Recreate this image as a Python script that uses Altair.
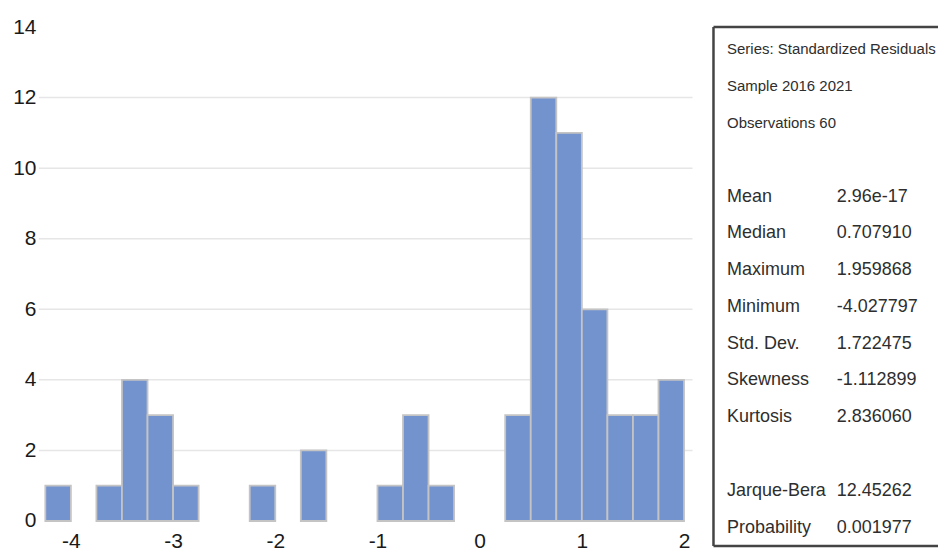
import altair as alt
import pandas as pd

# ---- histogram data (bin edges and counts) ----
bin_edges = [-4.25, -4.0, -3.75, -3.5, -3.25, -3.0, -2.75, -2.5, -2.25, -2.0,
             -1.75, -1.5, -1.25, -1.0, -0.75, -0.5, -0.25, 0.0, 0.25, 0.5,
             0.75, 1.0, 1.25, 1.5, 1.75, 2.0]
counts = [1, 0, 1, 4, 3, 1, 0, 0, 1, 0,
          2, 0, 0, 1, 3, 1, 0, 0, 3, 12,
          11, 6, 3, 3, 4]
x_ticks = [-4, -3, -2, -1, 0, 1, 2]
y_ticks = [0, 2, 4, 6, 8, 10, 12, 14]
grid_values = [2, 4, 6, 8, 10, 12]

# ---- statistics box ----
header_lines = ["Series: Standardized Residuals", "Sample 2016 2021", "Observations 60"]
header_rows = [0, 1, 2]
stat_names = ["Mean", "Median", "Maximum", "Minimum", "Std. Dev.", "Skewness",
              "Kurtosis", "Jarque-Bera", "Probability"]
stat_values = ["2.96e-17", "0.707910", "1.959868", "-4.027797", "1.722475",
               "-1.112899", "2.836060", "12.45262", "0.001977"]
stat_rows = [4, 5, 6, 7, 8, 9, 10, 12, 13]

FONT = "Liberation Sans, Arial, sans-serif"
PLOT_W, PLOT_H = 655, 495
PANEL_W, PANEL_H = 225, 520

hist_df = pd.DataFrame({"lo": bin_edges[:-1], "hi": bin_edges[1:], "count": counts})
grid_df = pd.DataFrame({"g": grid_values})

x_scale = alt.Scale(domain=[-4.3125, 2.083], nice=False, zero=False)
y_scale = alt.Scale(domain=[0, 14], nice=False)

label_expr = "'' + datum.value"
y_axis = alt.Axis(values=y_ticks, domain=False, ticks=False, grid=False,
                  labelFont=FONT, labelFontSize=21, labelColor="#1a1a1a",
                  labelPadding=3, labelExpr=label_expr)
x_axis = alt.Axis(values=x_ticks, domain=False, ticks=False, grid=False,
                  labelFont=FONT, labelFontSize=21, labelColor="#1a1a1a",
                  labelPadding=9.5, labelFlush=False, labelExpr=label_expr)

grid = alt.Chart(grid_df).mark_rule(color="#e6e6e6", strokeWidth=1.5).encode(
    y=alt.Y("g:Q", scale=y_scale, title=None, axis=y_axis)
)

bars = alt.Chart(hist_df).transform_filter("datum.count > 0").mark_rect(
    color="#7393cf", stroke="#c4c4c4", strokeWidth=1.8
).encode(
    x=alt.X("lo:Q", scale=x_scale, title=None, axis=x_axis),
    x2="hi:Q",
    y=alt.Y("count:Q", scale=y_scale, title=None, axis=y_axis),
    y2=alt.datum(0),
)

hist = alt.layer(grid, bars).properties(width=PLOT_W, height=PLOT_H)

# panel
header_df = pd.DataFrame({"text": header_lines, "row": header_rows, "col": [0] * len(header_lines)})
stats_df = pd.DataFrame({
    "text": stat_names + stat_values,
    "row": stat_rows + stat_rows,
    "col": [0] * len(stat_names) + [1] * len(stat_values),
})

px_scale = alt.Scale(domain=[-0.1236, 1.921], nice=False, zero=False)
row_scale = alt.Scale(domain=[-0.611, 13.5], nice=False, zero=False, reverse=True)

header = alt.Chart(header_df).mark_text(
    align="left", baseline="middle", font=FONT, fontSize=15, color="#2e2e2e", clip=True
).encode(
    x=alt.X("col:Q", scale=px_scale, axis=None),
    y=alt.Y("row:Q", scale=row_scale, axis=None),
    text="text:N",
)
stats = alt.Chart(stats_df).mark_text(
    align="left", baseline="middle", font=FONT, fontSize=18, color="#2e2e2e", clip=True
).encode(
    x=alt.X("col:Q", scale=px_scale, axis=None),
    y=alt.Y("row:Q", scale=row_scale, axis=None),
    text="text:N",
)

dummy = pd.DataFrame({"a": [0]})
border_style = dict(color="#444444", strokeWidth=2.5)
left_edge = alt.Chart(dummy).mark_rule(**border_style).encode(
    x=alt.value(0), y=alt.value(0), y2=alt.value(PANEL_H))
top_edge = alt.Chart(dummy).mark_rule(**border_style).encode(
    x=alt.value(0), x2=alt.value(PANEL_W), y=alt.value(0))
bottom_edge = alt.Chart(dummy).mark_rule(**border_style).encode(
    x=alt.value(0), x2=alt.value(PANEL_W), y=alt.value(PANEL_H))

panel = alt.layer(header, stats, left_edge, top_edge, bottom_edge).properties(
    width=PANEL_W, height=PANEL_H
)

chart = alt.hconcat(hist, panel, spacing=21, bounds="flush").properties(
    padding={"left": 4, "top": 7.5, "right": 0, "bottom": -1.5},
    background="white",
).configure_view(stroke="transparent", strokeWidth=0)

chart.save("out.html", embed_options={"renderer": "svg", "actions": False})
